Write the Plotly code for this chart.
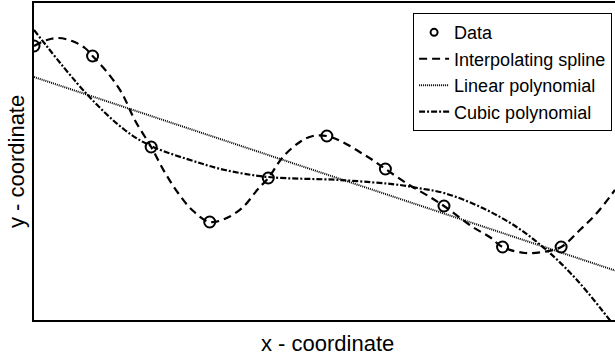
import plotly.graph_objects as go

# Data points
data_x = [1, 2, 3, 4, 5, 6, 7, 8, 9, 10]
data_y = [27.4, 26.4, 17.3, 9.8, 14.2, 18.4, 15.1, 11.4, 7.3, 7.3]

# Interpolating spline
spline_x = [1.00, 1.22, 1.41, 1.65, 1.87, 2.00, 2.26, 2.50, 2.72, 3.00, 3.24, 3.46, 3.70, 4.00,
            4.29, 4.57, 4.81, 5.00, 5.25, 5.54, 5.76, 6.00, 6.27, 6.56, 6.78, 7.00, 7.38, 7.76,
            8.00, 8.49, 8.78, 9.00, 9.38, 9.69, 10.00, 10.32, 10.61, 10.92]
spline_y = [27.4, 28.0, 28.2, 27.9, 27.2, 26.4, 24.7, 22.7, 20.0, 17.3, 14.7, 12.7, 11.0, 9.8,
            10.2, 11.3, 13.0, 14.2, 16.3, 17.8, 18.4, 18.4, 17.8, 16.8, 16.0, 15.1, 13.6, 12.3,
            11.4, 9.3, 8.3, 7.3, 6.7, 6.8, 7.3, 9.0, 10.7, 13.0]

# Linear polynomial
linear_x = [1.0, 10.92]
linear_y = [24.3, 4.95]

# Cubic polynomial
cubic_x = [1.0, 1.9, 2.55, 3.0, 3.83, 4.26, 5.0, 6.22, 7.25, 7.55, 8.0, 8.66, 9.24, 9.75, 10.27, 10.83, 10.92]
cubic_y = [29.0, 22.6, 19.0, 17.4, 15.7, 15.0, 14.3, 14.0, 13.5, 13.2, 12.7, 11.2, 9.3, 7.0, 4.0, 0.0, -0.7]

FONT = "Arial, Liberation Sans, sans-serif"

fig = go.Figure()
fig.add_trace(go.Scatter(x=data_x, y=data_y, mode="markers", showlegend=False,
                         marker=dict(symbol="circle-open", size=11, color="black",
                                     line=dict(width=2, color="black"))))
fig.add_trace(go.Scatter(x=[None], y=[None], mode="markers", name="Data",
                         marker=dict(symbol="circle-open", size=7, color="black",
                                     line=dict(width=2, color="black"))))
fig.add_trace(go.Scatter(x=spline_x, y=spline_y, mode="lines", name="Interpolating spline",
                         line=dict(color="black", width=2.2, dash="8px,5px", shape="spline")))
fig.add_trace(go.Scatter(x=linear_x, y=linear_y, mode="lines", name="Linear polynomial",
                         line=dict(color="black", width=2, dash="1px,1px")))
fig.add_trace(go.Scatter(x=cubic_x, y=cubic_y, mode="lines", name="Cubic polynomial",
                         line=dict(color="black", width=2.2, dash="6px,2px,2px,2px", shape="spline")))

fig.update_layout(
    width=615, height=359,
    margin=dict(l=34, r=0, t=3, b=39),
    paper_bgcolor="white", plot_bgcolor="white",
    font=dict(family=FONT, color="black"),
    xaxis=dict(range=[1, 10.92], showgrid=False, zeroline=False, showticklabels=False,
               ticks="", showline=True, linecolor="black", linewidth=1.5, mirror=True),
    yaxis=dict(range=[0, 31.7], showgrid=False, zeroline=False, showticklabels=False,
               ticks="", showline=True, linecolor="black", linewidth=1.5),
    legend=dict(x=0.995, y=0.968, xanchor="right", yanchor="top",
                bordercolor="black", borderwidth=1, bgcolor="white",
                font=dict(family=FONT, size=18, color="black"),
                tracegroupgap=0),
    annotations=[
        dict(text="x - coordinate", xref="paper", yref="paper", x=0.505, y=-0.075,
             xanchor="center", yanchor="middle", showarrow=False,
             font=dict(family=FONT, size=22, color="black")),
        dict(text="y - coordinate", xref="paper", yref="paper", x=-0.03, y=0.5,
             xanchor="center", yanchor="middle", textangle=-90, showarrow=False,
             font=dict(family=FONT, size=22, color="black")),
    ],
)

fig.write_html("out.html", config={"displayModeBar": False},
               post_script="document.body.style.margin='0';document.body.style.overflow='hidden';")
